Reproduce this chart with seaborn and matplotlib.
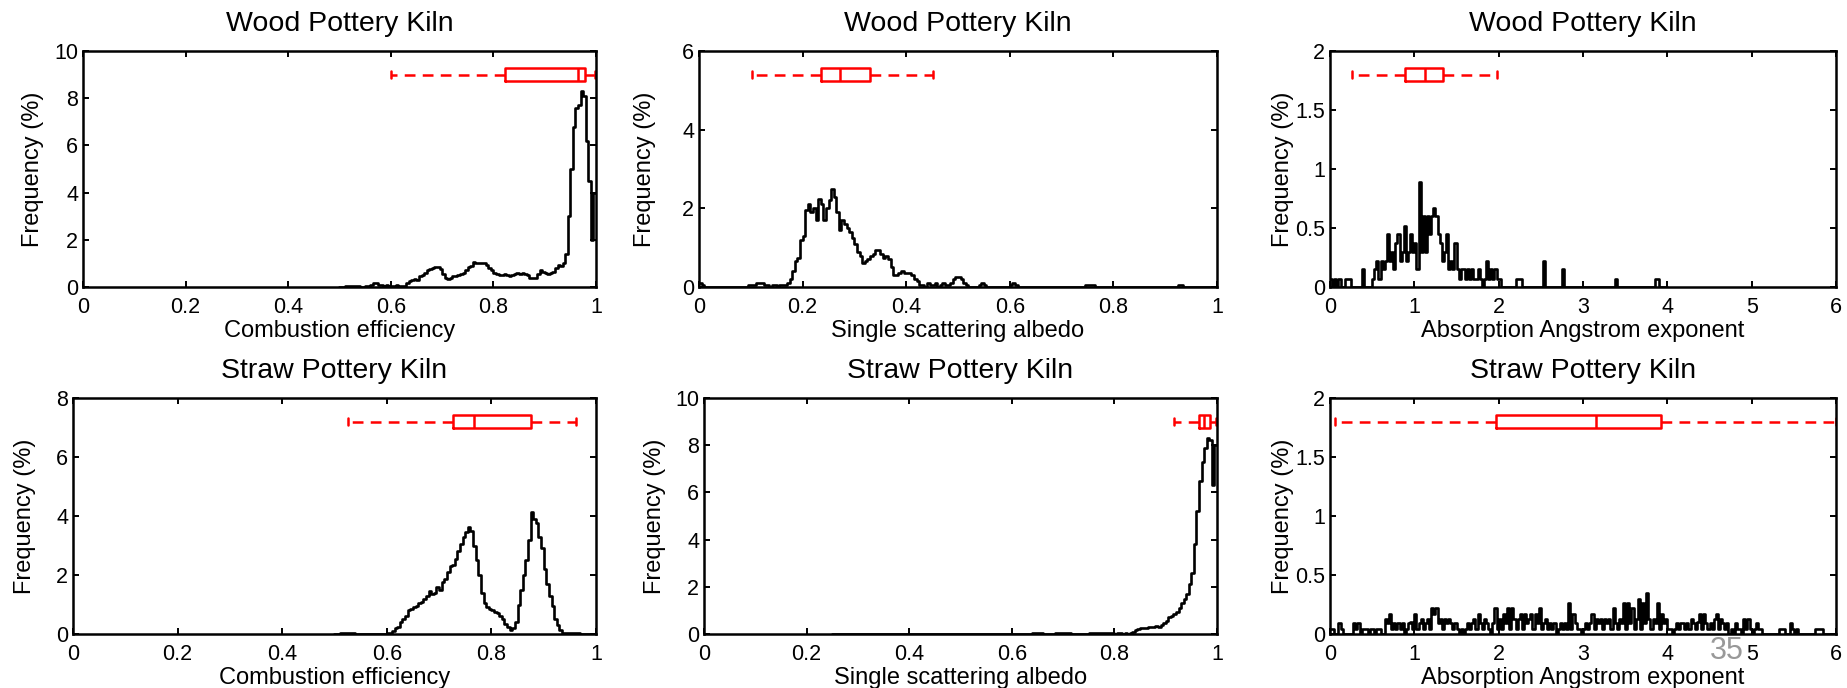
import numpy as np
import pandas as pd
import matplotlib
matplotlib.use("Agg")
import matplotlib.pyplot as plt
import seaborn as sns

# ---------------- data ----------------
titles = ["Wood Pottery Kiln", "Wood Pottery Kiln", "Wood Pottery Kiln",
          "Straw Pottery Kiln", "Straw Pottery Kiln", "Straw Pottery Kiln"]
xlabels = ["Combustion efficiency", "Single scattering albedo", "Absorption Angstrom exponent",
           "Combustion efficiency", "Single scattering albedo", "Absorption Angstrom exponent"]
ylabel = "Frequency (%)"

# histogram bins: first edge and bin width for each panel
hist_x0 = [0.5, 0.0, 0.0, 0.5, 0.25, 0.0]
hist_w = [0.005, 0.005, 0.025, 0.005, 0.005, 0.025]

# Wood, combustion efficiency (0.50 .. 1.00)
freq_wood_ce = [
    0, 0, 0.05, 0.05, 0.05, 0.05, 0.05, 0.05, 0, 0,
    0.05, 0.05, 0.1, 0.15, 0.15, 0.1, 0.1, 0.05, 0.1, 0.05,
    0.05, 0.05, 0.1, 0.05, 0.05, 0.05, 0.15, 0.25, 0.3, 0.35,
    0.3, 0.45, 0.5, 0.6, 0.7, 0.75, 0.8, 0.85, 0.85, 0.75,
    0.55, 0.4, 0.35, 0.4, 0.45, 0.45, 0.5, 0.55, 0.6, 0.7,
    0.85, 0.9, 1.05, 1.0, 1.0, 1.0, 1.0, 0.95, 0.8, 0.7,
    0.6, 0.55, 0.5, 0.5, 0.55, 0.5, 0.45, 0.5, 0.55, 0.6,
    0.55, 0.6, 0.55, 0.5, 0.4, 0.38, 0.4, 0.55, 0.7, 0.65,
    0.6, 0.55, 0.6, 0.65, 0.8, 0.95, 0.9, 1.0, 1.4, 3.0,
    5.0, 6.8, 7.6, 7.7, 8.3, 8.1, 6.2, 4.5, 2.0, 4.0,
]
# Wood, single scattering albedo (0.00 .. 1.00)
freq_wood_ssa = [
    0.1, 0.05, 0, 0, 0, 0, 0, 0, 0, 0,
    0, 0, 0, 0, 0, 0, 0, 0, 0, 0.05,
    0.05, 0.05, 0.1, 0.1, 0.1, 0.05, 0.05, 0, 0.05, 0.05,
    0, 0.05, 0.05, 0.05, 0.1, 0.2, 0.4, 0.65, 0.75, 1.2,
    1.3, 1.95, 2.1, 1.9, 2.0, 1.7, 2.25, 2.1, 1.7, 2.0,
    2.2, 2.5, 2.3, 1.9, 1.45, 1.7, 1.6, 1.5, 1.4, 1.25,
    1.1, 0.9, 0.8, 0.6, 0.65, 0.7, 0.8, 0.85, 0.95, 0.95,
    0.85, 0.75, 0.8, 0.7, 0.5, 0.3, 0.3, 0.35, 0.4, 0.35,
    0.35, 0.35, 0.3, 0.2, 0.15, 0.05, 0.05, 0, 0.1, 0.05,
    0.05, 0.1, 0, 0.05, 0.1, 0.05, 0.05, 0.1, 0.2, 0.25,
    0.25, 0.2, 0.1, 0.05, 0, 0, 0, 0, 0.05, 0.1,
    0.05, 0, 0, 0, 0, 0, 0, 0, 0, 0,
    0.05, 0.1, 0.05, 0, 0, 0, 0, 0, 0, 0,
    0, 0, 0, 0, 0, 0, 0, 0, 0, 0,
    0, 0, 0, 0, 0, 0, 0, 0, 0, 0.05,
    0.05, 0.05, 0.05, 0, 0, 0, 0, 0, 0, 0,
    0, 0, 0, 0, 0, 0, 0, 0, 0, 0,
    0, 0, 0, 0, 0, 0, 0, 0, 0, 0,
    0, 0, 0, 0, 0, 0.05, 0.05, 0, 0, 0,
    0, 0, 0, 0, 0, 0, 0, 0, 0, 0,
]
# Wood, absorption Angstrom exponent (0.0 .. 4.0)
freq_wood_aae = [
    0.07, 0, 0.07, 0, 0.07, 0, 0, 0.07,
    0.07, 0.07, 0, 0, 0, 0, 0, 0.15,
    0, 0, 0, 0, 0.07, 0.15, 0.22, 0.07,
    0.22, 0.15, 0.22, 0.45, 0.22, 0.3, 0.15, 0.37,
    0.45, 0.22, 0.3, 0.52, 0.22, 0.3, 0.45, 0.3,
    0.37, 0.15, 0.89, 0.3, 0.6, 0.3, 0.6, 0.45,
    0.6, 0.67, 0.6, 0.45, 0.37, 0.22, 0.3, 0.45,
    0.15, 0.22, 0.15, 0.37, 0.15, 0.07, 0.15, 0.15,
    0.07, 0.15, 0.07, 0.15, 0.07, 0.07, 0.15, 0.07,
    0, 0.07, 0.22, 0.07, 0.15, 0.07, 0.15, 0.07,
    0.07, 0, 0, 0, 0, 0, 0, 0,
    0.07, 0.07, 0.07, 0, 0, 0, 0, 0,
    0, 0, 0, 0, 0, 0.22, 0, 0,
    0, 0, 0, 0, 0, 0, 0.15, 0,
    0, 0, 0, 0, 0, 0, 0, 0,
    0, 0, 0, 0, 0, 0, 0, 0,
    0, 0, 0, 0, 0, 0, 0, 0.07,
    0, 0, 0, 0, 0, 0, 0, 0,
    0, 0, 0, 0, 0, 0, 0, 0,
    0, 0, 0.07, 0.07, 0, 0, 0, 0,
]
# Straw, combustion efficiency (0.50 .. 1.00)
freq_straw_ce = [
    0, 0, 0.03, 0.03, 0.03, 0.03, 0.03, 0.03, 0, 0,
    0, 0, 0, 0, 0, 0, 0, 0, 0, 0,
    0.05, 0.03, 0.1, 0.2, 0.25, 0.4, 0.5, 0.6, 0.8, 0.85,
    0.9, 0.95, 1.05, 1.1, 1.2, 1.3, 1.45, 1.35, 1.4, 1.6,
    1.5, 1.75, 1.85, 2.1, 2.3, 2.35, 2.55, 2.8, 3.05, 3.3,
    3.45, 3.62, 3.5, 3.0, 2.5, 2.0, 1.4, 1.05, 0.9, 0.85,
    0.8, 0.75, 0.7, 0.6, 0.5, 0.35, 0.25, 0.15, 0.2, 0.4,
    1.0, 1.5, 2.0, 2.5, 3.2, 4.15, 3.9, 3.75, 3.3, 2.9,
    2.2, 1.7, 1.3, 0.95, 0.5, 0.3, 0.12, 0.05, 0.03, 0.03,
    0.03, 0.03, 0.03, 0.03, 0, 0, 0, 0, 0, 0,
]
# Straw, single scattering albedo (0.25 .. 1.00)
freq_straw_ssa = [
    0, 0.02, 0.02, 0, 0, 0, 0, 0, 0, 0,
    0, 0, 0, 0, 0, 0, 0, 0, 0, 0,
    0, 0, 0, 0, 0, 0, 0, 0, 0, 0,
    0.02, 0.02, 0.02, 0, 0, 0, 0, 0, 0, 0.02,
    0.02, 0.02, 0, 0, 0, 0, 0, 0, 0, 0,
    0.02, 0.02, 0.02, 0, 0, 0, 0, 0, 0, 0,
    0, 0, 0, 0, 0, 0, 0, 0, 0, 0,
    0, 0, 0, 0, 0, 0, 0, 0, 0.03, 0.05,
    0.05, 0.03, 0, 0, 0, 0.02, 0.02, 0.05, 0.05, 0.03,
    0.05, 0.05, 0.03, 0.02, 0, 0, 0.02, 0.02, 0, 0.02,
    0.03, 0.05, 0.05, 0.05, 0.03, 0.05, 0.05, 0.03, 0.05, 0.03,
    0.02, 0.03, 0.03, 0.02, 0.03, 0.02, 0.05, 0.1, 0.18, 0.22,
    0.25, 0.25, 0.25, 0.3, 0.28, 0.3, 0.35, 0.3, 0.4, 0.45,
    0.55, 0.7, 0.75, 0.85, 0.95, 1.1, 1.3, 1.5, 1.7, 2.1,
    2.6, 3.8, 5.2, 6.5, 7.3, 7.9, 8.3, 8.2, 6.3, 8.0,
]
# Straw, absorption Angstrom exponent (0.0 .. 6.0)
freq_straw_aae = [
    0.04, 0.04, 0, 0, 0.09, 0.04, 0, 0,
    0, 0, 0, 0.09, 0.04, 0.09, 0, 0.04,
    0.04, 0.04, 0, 0.04, 0.04, 0, 0.04, 0.04,
    0, 0, 0.13, 0.09, 0.17, 0.04, 0.09, 0.04,
    0.09, 0.04, 0.09, 0, 0.04, 0.09, 0.1, 0.04,
    0.17, 0.04, 0.09, 0.13, 0.04, 0.09, 0.13, 0.04,
    0.22, 0.17, 0.22, 0.09, 0.13, 0.04, 0.13, 0.09,
    0.13, 0.09, 0.04, 0.09, 0.04, 0, 0.04, 0,
    0.04, 0.09, 0.04, 0.09, 0.13, 0.04, 0.17, 0.09,
    0.04, 0.13, 0.09, 0.04, 0, 0.09, 0.22, 0.04,
    0.13, 0.04, 0.17, 0.09, 0.22, 0.04, 0.22, 0.13,
    0.04, 0.13, 0.17, 0.04, 0.17, 0.09, 0.13, 0.17,
    0.04, 0.17, 0.09, 0.22, 0.04, 0.09, 0.13, 0.04,
    0.09, 0.04, 0.09, 0, 0.04, 0.09, 0.04, 0.09,
    0.04, 0.26, 0.04, 0.17, 0.09, 0.04, 0.04, 0,
    0.04, 0.09, 0.04, 0.09, 0.17, 0.04, 0.13, 0.09,
    0.13, 0.04, 0.13, 0.09, 0.13, 0.04, 0.22, 0.09,
    0.04, 0.13, 0.09, 0.26, 0.04, 0.26, 0.09, 0.22,
    0.04, 0.13, 0.3, 0.04, 0.26, 0.09, 0.35, 0.13,
    0.04, 0.13, 0.09, 0.26, 0.04, 0.17, 0.09, 0.13,
    0.04, 0.04, 0, 0.04, 0.09, 0.04, 0.09, 0.09,
    0.04, 0.09, 0.04, 0.13, 0.09, 0.04, 0.1, 0.17,
    0.04, 0.17, 0.09, 0.04, 0.09, 0.04, 0.13, 0.17,
    0.04, 0.13, 0.09, 0.04, 0.09, 0, 0.04, 0,
    0.09, 0.04, 0.04, 0, 0.13, 0.04, 0.13, 0.04,
    0, 0.04, 0.09, 0.04, 0.04, 0, 0, 0,
    0, 0, 0, 0, 0, 0.04, 0.04, 0.04,
    0, 0, 0.09, 0.04, 0, 0.04, 0, 0,
    0, 0, 0, 0, 0, 0, 0.04, 0.04,
    0.04, 0.04, 0, 0, 0, 0, 0, 0,
]
hist_freqs = [freq_wood_ce, freq_wood_ssa, freq_wood_aae,
              freq_straw_ce, freq_straw_ssa, freq_straw_aae]

# box plot statistics (horizontal, red)
box_lo = [0.601, 0.103, 0.257, 0.525, 0.917, 0.06]
box_q1 = [0.822, 0.236, 0.89, 0.726, 0.964, 1.97]
box_med = [0.965, 0.272, 1.13, 0.766, 0.975, 3.15]
box_q3 = [0.979, 0.331, 1.34, 0.875, 0.987, 3.93]
box_hi = [0.998, 0.452, 1.98, 0.962, 0.999, 6.0]
box_y = [9.0, 5.4, 1.8, 7.2, 9.0, 1.8]

# axis ticks
xt_unit = [0, 0.2, 0.4, 0.6, 0.8, 1.0]
xt_unit_lbl = ["0", "0.2", "0.4", "0.6", "0.8", "1"]
xt_aae = [0, 1, 2, 3, 4, 5, 6]
xt_aae_lbl = ["0", "1", "2", "3", "4", "5", "6"]
yt_10 = [0, 2, 4, 6, 8, 10]
yt_10_lbl = ["0", "2", "4", "6", "8", "10"]
yt_6 = [0, 2, 4, 6]
yt_6_lbl = ["0", "2", "4", "6"]
yt_8 = [0, 2, 4, 6, 8]
yt_8_lbl = ["0", "2", "4", "6", "8"]
yt_2 = [0, 0.5, 1.0, 1.5, 2.0]
yt_2_lbl = ["0", "0.5", "1", "1.5", "2"]

# ---------------- styling / layout ----------------
sns.set_style("white")
plt.rcParams['font.family'] = ['Liberation Sans', 'DejaVu Sans']

W, H = 1847, 688
fig = plt.figure(figsize=(W / 100, H / 100), dpi=100)
fig.patch.set_facecolor("white")

# axes boxes in pixels: left, right, top, bottom
boxes = [(83, 596, 51, 287), (699, 1217, 51, 287), (1330, 1836, 51, 287),
         (73, 596, 398, 634), (704, 1217, 398, 634), (1330, 1836, 398, 634)]
ylab_x = [33, 645, 1283, 25, 655, 1283]
xlab_base = [337, 337, 337, 684, 684, 684]
xlim = [(0, 1), (0, 1), (0, 6), (0, 1), (0, 1), (0, 6)]
xticks = [(xt_unit, xt_unit_lbl), (xt_unit, xt_unit_lbl), (xt_aae, xt_aae_lbl),
          (xt_unit, xt_unit_lbl), (xt_unit, xt_unit_lbl), (xt_aae, xt_aae_lbl)]
yticks = [(yt_10, yt_10_lbl), (yt_6, yt_6_lbl), (yt_2, yt_2_lbl),
          (yt_8, yt_8_lbl), (yt_10, yt_10_lbl), (yt_2, yt_2_lbl)]

FS_TICK = 15.5
FS_LAB = 17
FS_TITLE = 20.5
BOX_PX = 13.3
LW = 1.8

for i in range(6):
    l, r, t, b = boxes[i]
    ax = fig.add_axes([l / W, 1 - b / H, (r - l) / W, (b - t) / H])
    ax.set_facecolor("white")

    freq = np.array(hist_freqs[i], dtype=float)
    edges = hist_x0[i] + hist_w[i] * np.arange(len(freq) + 1)
    centers = edges[:-1] + hist_w[i] / 2
    df = pd.DataFrame({"value": centers, "freq": freq})
    sns.histplot(data=df, x="value", weights="freq", bins=list(edges), element="step",
                 fill=False, color="black", linewidth=1.9, ax=ax)

    ymax = yticks[i][0][-1]
    h = BOX_PX * ymax / (b - t)
    stats = [dict(med=box_med[i], q1=box_q1[i], q3=box_q3[i],
                  whislo=box_lo[i], whishi=box_hi[i], fliers=[])]
    kw = dict(positions=[box_y[i]], widths=[h], showfliers=False, manage_ticks=False,
              boxprops=dict(color="red", linewidth=LW),
              whiskerprops=dict(color="red", linewidth=LW, linestyle=(0, (4.3, 2.9))),
              capprops=dict(color="red", linewidth=LW),
              medianprops=dict(color="red", linewidth=LW),
              capwidths=[h * 0.5])
    try:
        ax.bxp(stats, orientation="horizontal", **kw)
    except TypeError:
        ax.bxp(stats, vert=False, **kw)

    ax.set_xlim(*xlim[i])
    ax.set_ylim(0, ymax)
    ax.set_xticks(xticks[i][0])
    ax.set_xticklabels(xticks[i][1])
    ax.set_yticks(yticks[i][0])
    ax.set_yticklabels(yticks[i][1])
    ax.tick_params(axis="both", direction="in", top=True, right=True, bottom=True, left=True,
                   length=4, width=1.4, color="black", labelsize=FS_TICK, labelcolor="black")
    ax.tick_params(axis="x", pad=7)
    ax.tick_params(axis="y", pad=3.5)
    for sp in ax.spines.values():
        sp.set_visible(True)
        sp.set_color("black")
        sp.set_linewidth(LW)

    ax.set_title(titles[i], fontsize=FS_TITLE, pad=14.5, color="black")
    ax.set_xlabel(xlabels[i], fontsize=FS_LAB, color="black", va="baseline")
    ax.xaxis.set_label_coords(0.5, (b - xlab_base[i]) / (b - t))
    ax.set_ylabel(ylabel, fontsize=FS_LAB, color="black", va="center")
    ax.yaxis.set_label_coords((ylab_x[i] - l) / (r - l), 0.5)

fig.text(1727 / W, 1 - 651 / H, "35", fontsize=22, color="#999999",
         ha="center", va="center")

fig.savefig("out.png", dpi=100, facecolor="white")
